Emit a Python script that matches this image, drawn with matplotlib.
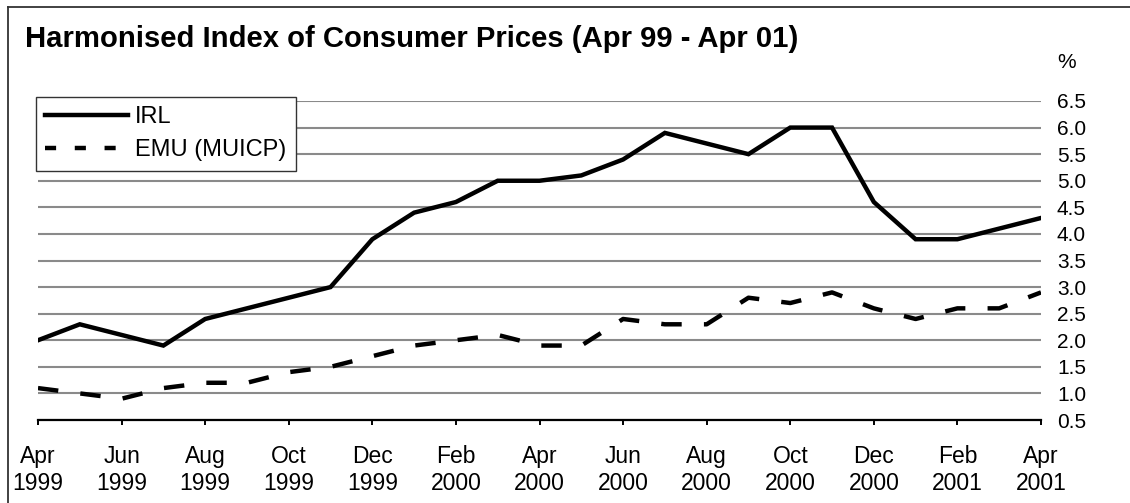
import matplotlib.pyplot as plt
from matplotlib.lines import Line2D

plt.rcParams['font.family'] = ['Liberation Sans', 'DejaVu Sans']

# 月次データ Apr 1999 - Apr 2001
months = list(range(25))
irl = [2.0, 2.3, 2.1, 1.9, 2.4, 2.6, 2.8, 3.0, 3.9, 4.4, 4.6, 5.0, 5.0,
       5.1, 5.4, 5.9, 5.7, 5.5, 6.0, 6.0, 4.6, 3.9, 3.9, 4.1, 4.3]
emu = [1.1, 1.0, 0.9, 1.1, 1.2, 1.2, 1.4, 1.5, 1.7, 1.9, 2.0, 2.1, 1.9,
       1.9, 2.4, 2.3, 2.3, 2.8, 2.7, 2.9, 2.6, 2.4, 2.6, 2.6, 2.9]
tick_pos = list(range(0, 25, 2))
tick_labels = ['Apr\n1999', 'Jun\n1999', 'Aug\n1999', 'Oct\n1999', 'Dec\n1999',
               'Feb\n2000', 'Apr\n2000', 'Jun\n2000', 'Aug\n2000', 'Oct\n2000',
               'Dec\n2000', 'Feb\n2001', 'Apr\n2001']
y_ticks = [0.5, 1.0, 1.5, 2.0, 2.5, 3.0, 3.5, 4.0, 4.5, 5.0, 5.5, 6.0, 6.5]

fig = plt.figure(figsize=(11.3, 5.03), dpi=100)
ax = fig.add_axes([38 / 1130, 83 / 503, 1003 / 1130, 319 / 503])

# 枠線 (上と左のみ見える)
x0 = 7.5 / 1130
y0 = 1 - 6.5 / 503
fig.add_artist(Line2D([x0, 1.0], [y0, y0], transform=fig.transFigure,
                      color='#333333', lw=1.3))
fig.add_artist(Line2D([x0, x0], [0.0, y0], transform=fig.transFigure,
                      color='#333333', lw=1.3))

ax.plot(months, irl, color='black', lw=3.2, solid_joinstyle='miter', zorder=3)
ax.plot(months, emu, color='black', lw=3.2, dashes=(4.6, 5.0), zorder=3)

ax.set_xlim(0, 24)
ax.set_ylim(0.5, 6.5)
ax.set_yticks(y_ticks)
ax.set_yticklabels(['%.1f' % v for v in y_ticks])
ax.yaxis.tick_right()
ax.tick_params(axis='y', length=0, pad=11.5, labelsize=15)
ax.set_xticks(tick_pos)
ax.set_xticklabels(tick_labels, linespacing=1.25)
ax.tick_params(axis='x', direction='out', length=3.8, width=1.4,
               labelsize=16.5, pad=14)
for s in ['top', 'left', 'right']:
    ax.spines[s].set_visible(False)
ax.spines['bottom'].set_linewidth(1.6)
ax.grid(axis='y', color='#8a8a8a', lw=1.5)
ax.set_axisbelow(True)

fig.text(25 / 1130, 1 - 39 / 503, 'Harmonised Index of Consumer Prices (Apr 99 - Apr 01)',
         fontsize=21.1, fontweight='bold', va='center', ha='left')
fig.text(1057 / 1130, 1 - 63 / 503, '%', fontsize=15, va='center', ha='left')

handles = [Line2D([], [], color='black', lw=3.2),
           Line2D([], [], color='black', lw=3.2, dashes=(2.5, 4.2))]
leg = ax.legend(handles, ['IRL', 'EMU (MUICP)'], loc='upper left',
                bbox_to_anchor=(36 / 1130, 1 - 97 / 503),
                bbox_transform=fig.transFigure, borderaxespad=0,
                fontsize=17, frameon=True, fancybox=False, framealpha=1,
                edgecolor='#333333', handlelength=3.5, handletextpad=0.3,
                borderpad=0.4, labelspacing=0.45)
leg.get_frame().set_linewidth(1.0)
leg.set_zorder(5)

fig.savefig('out.png', dpi=100)
